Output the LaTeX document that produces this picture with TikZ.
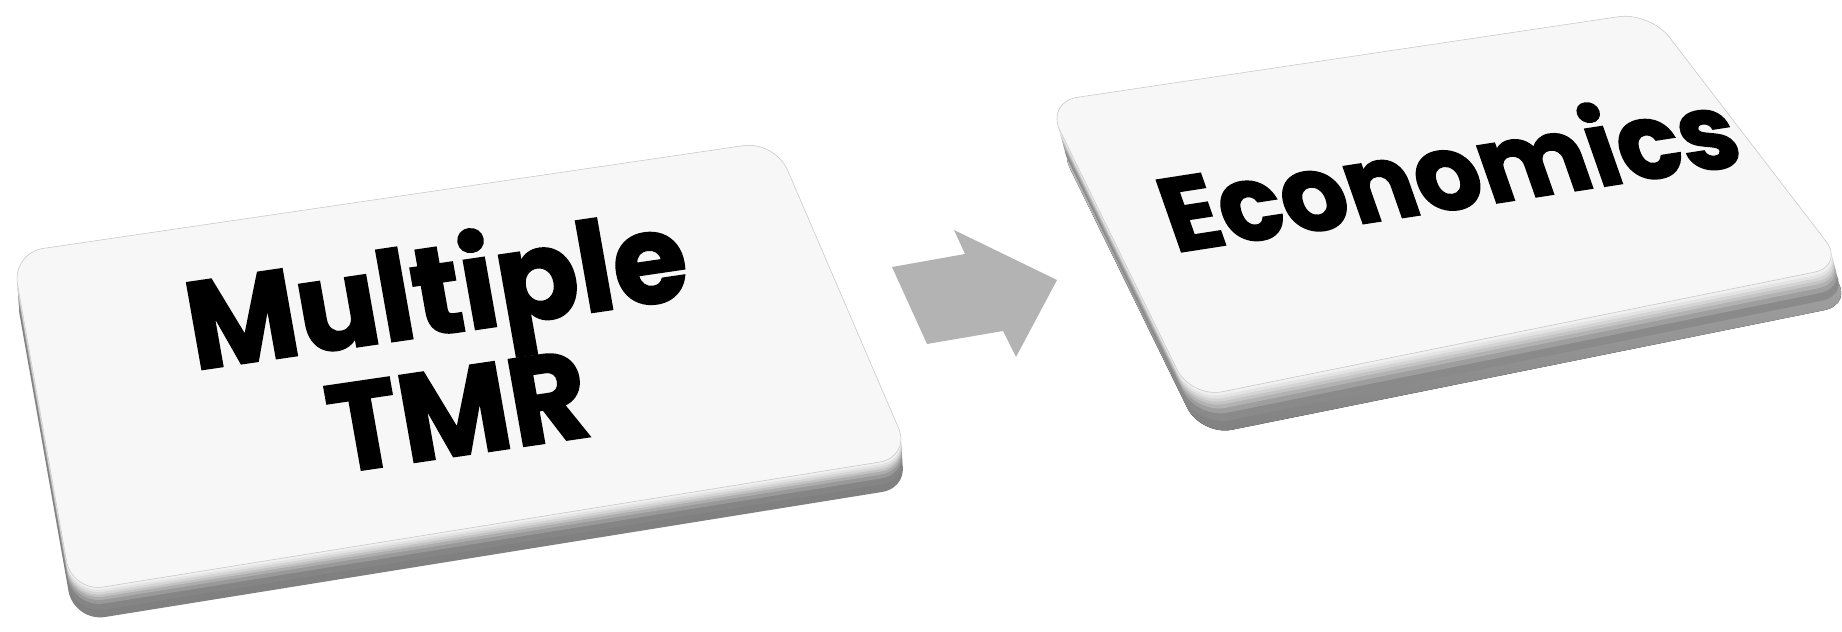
\documentclass[tikz,border=0pt]{standalone}
\usepackage{fontspec}
\usepackage{xcolor}
\usepackage{tikz}
\usetikzlibrary{positioning, calc}
\newfontfamily\keyfont{Poppins}[BoldFeatures={FakeBold=1.6}]
\definecolor{keyface}{HTML}{F7F7F7}
\definecolor{keyside}{HTML}{808080}
\definecolor{arrowgray}{HTML}{B3B3B3}

\begin{document}
\begin{tikzpicture}[x=0.02cm, y=-0.02cm]
        \tikzstyle{face} = [fill=keyface, draw=gray!45, line width=0.3pt, rounded corners=18pt]
        \tikzstyle{layer} = [rounded corners=18pt]
        \tikzstyle{label} = [align=center, text=black, inner sep=0pt]
        \useasboundingbox (0,0) rectangle (1842,632);

        % left key: side and bevel, then top face
        \foreach \f/\p in {1/50, 0.75/48, 0.55/40, 0.42/32, 0.32/24, 0.24/17, 0.16/11, 0.08/6}
          \fill[layer, black!\p, shift={(2*\f,30*\f)}] (12,253) -- (775,141) -- (911,457) -- (72,592) -- cycle;
        \draw[face] (12,253) -- (775,141) -- (911,457) -- (72,592) -- cycle;

        % right key
        \fill[layer, top color=gray!35, bottom color=keyside, shift={(10,38)}] (1046,102) -- (1650,12) -- (1845,266) -- (1191,398) -- cycle;
        \foreach \f/\p in {0.75/46, 0.55/38, 0.42/30, 0.32/23, 0.24/17, 0.16/11, 0.08/6}
          \fill[layer, black!\p, shift={(10*\f,38*\f)}] (1046,102) -- (1650,12) -- (1845,266) -- (1191,398) -- cycle;
        \draw[face] (1046,102) -- (1650,12) -- (1845,266) -- (1191,398) -- cycle;

        % arrow between the keys
        \fill[arrowgray] (892,267) -- (965,254) -- (954,230) -- (1057,280) -- (1016,357) -- (1003,331) -- (927,344) -- cycle;

        \node (multtmr) [label, font=\keyfont\bfseries\fontsize{70}{62}\selectfont, cm={0.97,0.142,-0.177,1,(0,0)}] at (446,345) {Multiple\\TMR};
        \node (econ) [label, font=\keyfont\bfseries\fontsize{58}{58}\selectfont, cm={1.0,0.155,-0.35,1,(0,0)}] at (1447,168) {Economics};
\end{tikzpicture}
\end{document}
